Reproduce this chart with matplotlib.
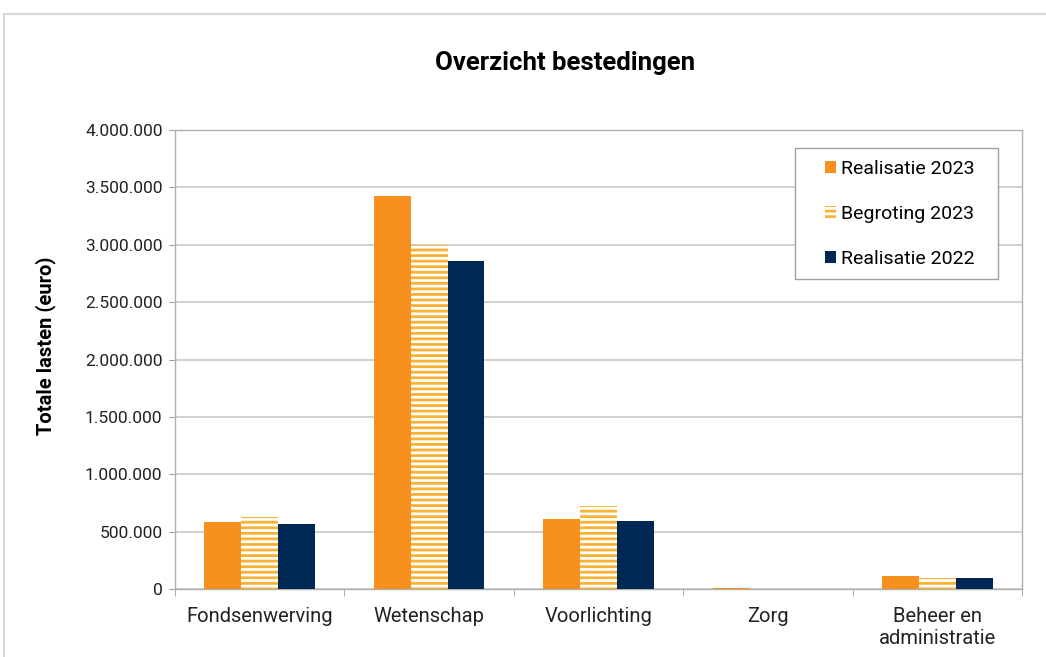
import matplotlib
matplotlib.use("Agg")
import matplotlib.pyplot as plt
import numpy as np
from matplotlib.patches import Rectangle
from matplotlib.ticker import FuncFormatter

categories = ["Fondsenwerving", "Wetenschap", "Voorlichting", "Zorg", "Beheer en\nadministratie"]
series_names = ["Realisatie 2023", "Begroting 2023", "Realisatie 2022"]
realisatie_2023 = [584000, 3425000, 607000, 12000, 113000]
begroting_2023 = [627000, 2995000, 723000, 0, 93000]
realisatie_2022 = [566000, 2861000, 595000, 0, 93000]

plt.rcParams['font.family'] = ['Roboto', 'DejaVu Sans']
plt.rcParams['hatch.linewidth'] = 2.0

W, H = 1046, 657
fig = plt.figure(figsize=(W/100, H/100), dpi=100)
fig.patches.append(Rectangle((4/W, -0.1), 1.2, (H-14)/H + 0.1, transform=fig.transFigure,
                             fill=False, edgecolor='#d9d9d9', linewidth=1.5))

ax = fig.add_axes([175/W, (H-589)/H, (1022-175)/W, (589-130)/H])

x = np.arange(len(categories))
bw = 0.218
orange = '#F7901E'
light = '#F9B233'
navy = '#002855'
ax.bar(x - bw, realisatie_2023, bw, color=orange, label=series_names[0], zorder=3)
ax.bar(x, begroting_2023, bw, color=light, edgecolor='white', linewidth=0, hatch='---',
       label=series_names[1], zorder=3)
ax.bar(x + bw, realisatie_2022, bw, color=navy, label=series_names[2], zorder=3)

ax.set_xlim(-0.5, len(categories) - 0.5)
ax.set_ylim(0, 4000000)
ax.set_yticks(np.arange(0, 4000001, 500000))
ax.yaxis.set_major_formatter(FuncFormatter(lambda v, p: f"{int(v):,}".replace(",", ".")))
ax.grid(axis='y', color='#c8c8c8', linewidth=1.2, zorder=0)
ax.set_xticks(x)
ax.set_xticklabels(categories, fontsize=14.5, color='#222222', linespacing=1.2)
ax.set_xticks(np.arange(-0.5, len(categories)), minor=True)
ax.tick_params(axis='x', which='major', length=0, pad=13)
ax.tick_params(axis='x', which='minor', length=5, color='#a0a0a0')
ax.tick_params(axis='y', length=4, color='#a0a0a0', labelsize=12.5, labelcolor='#222222', pad=5)
for s in ax.spines.values():
    s.set_color('#b0b0b0')
    s.set_linewidth(1.0)

ax.set_ylabel("Totale lasten (euro)", fontsize=14.5, fontweight='bold', labelpad=21)
ax.yaxis.label.set_y(0.53)
fig.text(565/W, 1 - 63/H, "Overzicht bestedingen", ha='center', va='center',
         fontsize=18.5, fontweight='bold')

frame = Rectangle((795/W, 1 - 279/H), (998-795)/W, (279-148)/H, transform=fig.transFigure,
                  fill=True, facecolor='white', edgecolor='#a0a0a0', linewidth=1.0,
                  zorder=4, clip_on=False)
ax.add_patch(frame)
leg = ax.legend(loc='center', bbox_to_anchor=(900/W, 1 - 214/H), bbox_transform=fig.transFigure,
                fontsize=14, frameon=False,
                handlelength=0.55, handleheight=0.55, handletextpad=0.25, labelspacing=1.4,
                borderpad=0, borderaxespad=0)
leg.set_zorder(5)

fig.savefig("out.png", dpi=100)
